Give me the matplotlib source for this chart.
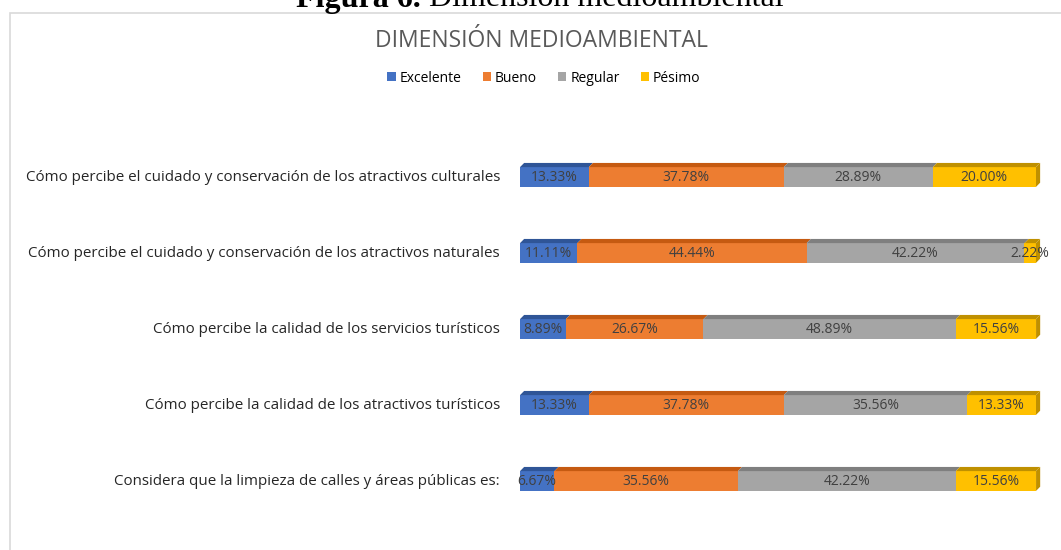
import matplotlib
matplotlib.use("Agg")
import matplotlib.pyplot as plt
from matplotlib.patches import Polygon, Rectangle, Patch
import numpy as np

categories = [
    "Cómo percibe el cuidado y conservación de los atractivos culturales",
    "Cómo percibe el cuidado y conservación de los atractivos naturales",
    "Cómo percibe la calidad de los servicios turísticos",
    "Cómo percibe la calidad de los atractivos turísticos",
    "Considera que la limpieza de calles y áreas públicas es:",
]
series_names = ["Excelente", "Bueno", "Regular", "Pésimo"]
excelente = [13.33, 11.11, 8.89, 13.33, 6.67]
bueno = [37.78, 44.44, 26.67, 37.78, 35.56]
regular = [28.89, 42.22, 48.89, 35.56, 42.22]
pesimo = [20.00, 2.22, 15.56, 13.33, 15.56]
series = [excelente, bueno, regular, pesimo]

colors = ["#4472C4", "#ED7D31", "#A5A5A5", "#FFC000"]
top_colors = ["#2F5597", "#C55A11", "#7F7F7F", "#BF9000"]

W, H = 1061, 550
fig = plt.figure(figsize=(W / 100, H / 100), dpi=100)
fig.patch.set_facecolor("white")

font = "Open Sans"

# chart frame
fig.patches.append(Rectangle((10 / W, -0.1), 1.2, 1 - 13 / H + 0.1, transform=fig.transFigure,
                             fill=False, edgecolor="#D9D9D9", linewidth=1.2))

# caption (partially cut off at top): bold "Figura 6." + regular rest
renderer = fig.canvas.get_renderer()
t1 = fig.text(0, 1 - 6.5 / H, "Figura 6.", ha="left", va="baseline", fontsize=23,
              family="Liberation Serif", weight="bold", color="black")
t2 = fig.text(0, 1 - 6.5 / H, " Dimensión medioambiental", ha="left", va="baseline", fontsize=23,
              family="Liberation Serif", color="black")
w1 = t1.get_window_extent(renderer).width
w2 = t2.get_window_extent(renderer).width
x0 = 540 - (w1 + w2) / 2
t1.set_x(x0 / W)
t2.set_x((x0 + w1) / W)

fig.text(541 / W, 1 - 41 / H, "DIMENSIÓN MEDIOAMBIENTAL", ha="center", va="center",
         fontsize=16.5, family=font, color="#595959")

ax_left, ax_right = 520, 1036
ax_top, ax_bottom = 139, 519
ax = fig.add_axes([ax_left / W, 1 - ax_bottom / H, (ax_right - ax_left) / W, (ax_bottom - ax_top) / H])
ax.set_xlim(0, 100)
ax.set_ylim(len(categories) - 0.5, -0.5)
ax.axis("off")

y = np.arange(len(categories))
bh = 0.26
dx = 0.8    # 3D depth in x data units (~4px)
dy = 0.055  # 3D depth in y data units (~4px)
left = np.zeros(len(categories))
for vals, c, tc in zip(series, colors, top_colors):
    vals = np.array(vals)
    ax.barh(y, vals, left=left, height=bh, color=c, edgecolor="none")
    for i in range(len(y)):
        l, w = left[i], vals[i]
        top = y[i] - bh / 2
        ax.add_patch(Polygon([(l, top), (l + w, top), (l + w + dx, top - dy), (l + dx, top - dy)],
                             closed=True, facecolor=tc, edgecolor="none", clip_on=False))
        ax.text(l + w / 2, y[i] + 0.01, f"{w:.2f}%", ha="center", va="center",
                fontsize=10, family=font, color="#404040", clip_on=False)
    left = left + vals

# right side face of full bar
for i in range(len(y)):
    top = y[i] - bh / 2
    bot = y[i] + bh / 2
    ax.add_patch(Polygon([(left[i], top), (left[i] + dx, top - dy), (left[i] + dx, bot - dy), (left[i], bot)],
                         closed=True, facecolor=top_colors[3], edgecolor="none", clip_on=False))

# category labels
for i, cat in enumerate(categories):
    ax.text(-3.9, y[i] + 0.01, cat, ha="right", va="center", fontsize=10.9, family=font, color="#262626")

handles = [Patch(facecolor=c, edgecolor="none") for c in colors]
fig.legend(handles, series_names, loc="center", bbox_to_anchor=(544 / W, 1 - 78 / H), ncol=4,
           frameon=False, prop={"family": font, "size": 10}, handlelength=0.6, handleheight=0.6,
           handletextpad=0.3, columnspacing=1.5)

fig.savefig("out.png", dpi=100)
